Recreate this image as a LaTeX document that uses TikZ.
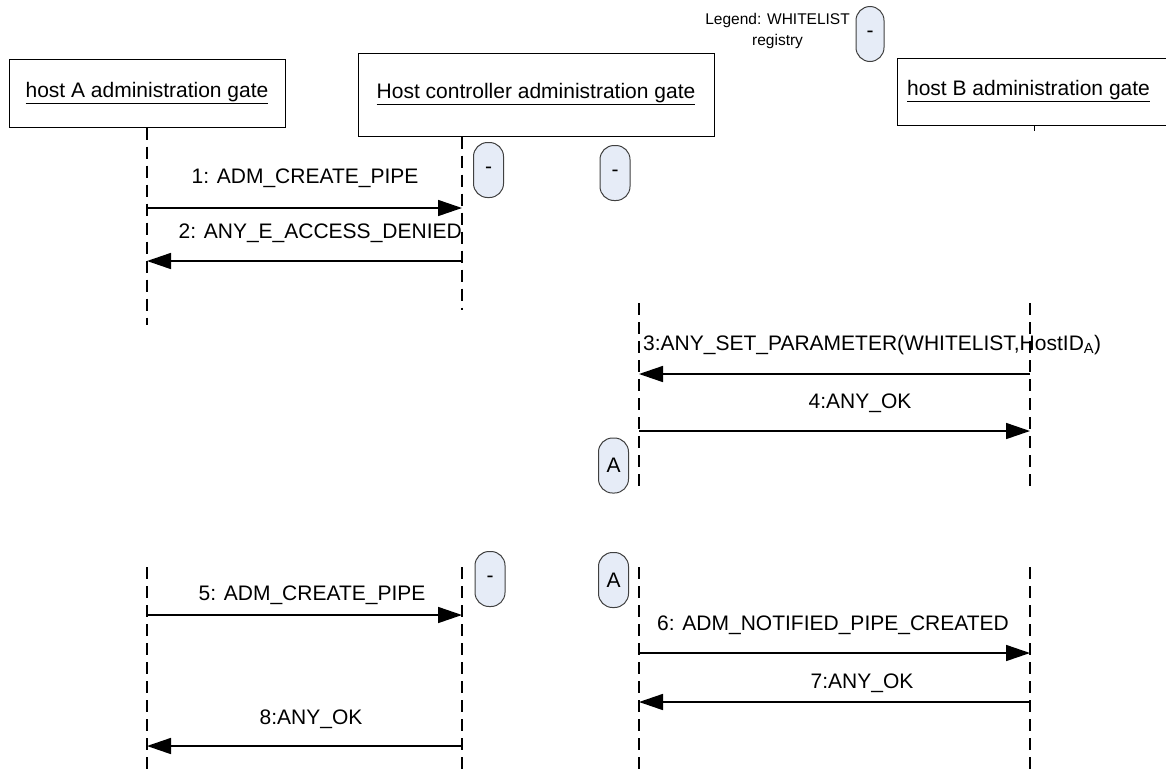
\documentclass[tikz,border=0pt]{standalone}
\usepackage{fontspec}
\setsansfont{Liberation Sans}
\usetikzlibrary{arrows.meta, positioning}
\definecolor{regfill}{HTML}{E6ECF7}
\definecolor{regline}{HTML}{404040}
\tikzset{
  gatebox/.style   = {font=\sffamily\fontsize{21}{25}\selectfont, align=center,
                      draw=black, line width=1pt, inner sep=0pt},
  lifeline/.style  = {draw=black, line width=1.6pt, dash pattern=on 12pt off 7pt},
  msg/.style       = {draw=black, line width=1.6pt,
                      -{Triangle[length=24pt, width=16pt]}},
  msglbl/.style    = {font=\sffamily\fontsize{21}{25}\selectfont, inner sep=0pt},
  regstate/.style  = {font=\sffamily\fontsize{21}{25}\selectfont,
                      draw=regline, fill=regfill, line width=1pt,
                      rounded corners=14pt, minimum width=30pt,
                      minimum height=55pt, inner sep=0pt},
  legendlbl/.style = {font=\sffamily\fontsize{15.5}{21}\selectfont,
                      align=center, inner sep=0pt},
}

\begin{document}
\begin{tikzpicture}[x=1pt, y=-1pt]
  \useasboundingbox (0,0) rectangle (1166,774);

  % gates
  \node[gatebox, minimum width=276pt, minimum height=68pt] (hostA) at (147,93)
       {\underline{host A administration gate}};
  \node[gatebox, minimum width=356pt, minimum height=83pt] (hctrl) at (536,94.5)
       {\underline{Host controller administration gate}};
  \node[gatebox, minimum width=300pt, minimum height=67pt, anchor=west] (hostB)
       at (897,91.5) {\underline{host B administration gate}\hspace*{38pt}};
  \coordinate (bstub) at (1034,131);
  \draw[line width=1pt] (hostB.south -| bstub) -- (bstub);

  % legend
  \node[regstate, minimum width=28pt] (legstate) at (870,34) {-};
  \node[legendlbl, anchor=east] (legtxt) at (850,31)
       {Legend: WHITELIST\\registry};

  % first attempt
  \coordinate (aend1) at (147,325);
  \coordinate (cend1) at (462,310);
  \draw[lifeline] (hostA.south) -- (aend1);
  \draw[lifeline] (hctrl.south -| cend1) -- (cend1);
  \node[regstate] (st1) at (488.5,170) {-};
  \node[regstate] (st2) at (615,173) {-};

  \coordinate (m1a) at (147,208);
  \coordinate (m1c) at (462,208);
  \draw[msg] (m1a) -- (m1c);
  \node[msglbl] (l1) at (305,178) {1: ADM\_CREATE\_PIPE};
  \coordinate (m2c) at (462,261);
  \coordinate (m2a) at (147,261);
  \draw[msg] (m2c) -- (m2a);
  \node[msglbl, anchor=east] (l2) at (462,233) {2: ANY\_E\_ACCESS\_DENIED};

  % whitelist update
  \coordinate (rtop2) at (639,303);
  \coordinate (rbot2) at (639,490);
  \coordinate (btop2) at (1030,303);
  \coordinate (bbot2) at (1030,490);
  \draw[lifeline] (rtop2) -- (rbot2);
  \draw[lifeline] (btop2) -- (bbot2);

  \coordinate (m3b) at (1030,374);
  \coordinate (m3r) at (639,374);
  \draw[msg] (m3b) -- (m3r);
  \node[msglbl, anchor=west] (l3) at (643,345)
       {3:ANY\_SET\_PARAMETER(WHITELIST,HostID\textsubscript{A})};
  \coordinate (m4r) at (639,431);
  \coordinate (m4b) at (1030,431);
  \draw[msg] (m4r) -- (m4b);
  \node[msglbl] (l4) at (860,403) {4:ANY\_OK};
  \node[regstate] (st3) at (613.5,465.5) {A};

  % second attempt
  \foreach \n/\x in {a/147, c/462, r/639, b/1030} {
    \coordinate (\n top3) at (\x,567);
    \coordinate (\n bot3) at (\x,774);
    \draw[lifeline] (\n top3) -- (\n bot3);
  }
  \node[regstate] (st4) at (490,579) {-};
  \node[regstate] (st5) at (613.5,580) {A};

  \coordinate (m5a) at (147,615);
  \coordinate (m5c) at (462,615);
  \draw[msg] (m5a) -- (m5c);
  \node[msglbl] (l5) at (312,595) {5: ADM\_CREATE\_PIPE};
  \coordinate (m6r) at (639,653);
  \coordinate (m6b) at (1030,653);
  \draw[msg] (m6r) -- (m6b);
  \node[msglbl] (l6) at (833,625) {6: ADM\_NOTIFIED\_PIPE\_CREATED};
  \coordinate (m7b) at (1030,702);
  \coordinate (m7r) at (639,702);
  \draw[msg] (m7b) -- (m7r);
  \node[msglbl] (l7) at (862,683) {7:ANY\_OK};
  \coordinate (m8c) at (462,746);
  \coordinate (m8a) at (147,746);
  \draw[msg] (m8c) -- (m8a);
  \node[msglbl] (l8) at (311,719) {8:ANY\_OK};
\end{tikzpicture}
\end{document}
